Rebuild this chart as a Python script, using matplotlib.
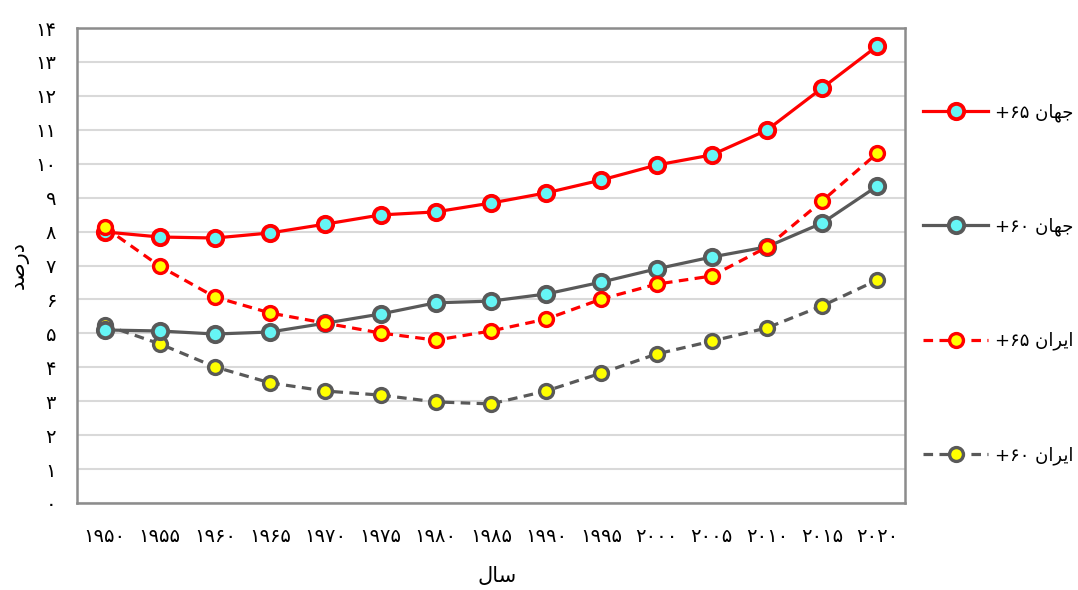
import numpy as np
import matplotlib.pyplot as plt

# Colores
color_red = '#FF0000'
color_gray = '#595959'
color_cyan = '#66F5F5'
color_yellow = '#FFFF00'
color_grid = '#D9D9D9'
color_frame = '#8C8C8C'

# Persian text written in visual (presentation) form, since matplotlib has no shaping
jahan = '\uFEE5\uFE8E\uFEEC\uFE9F'
iran = '\uFEE5\uFE8D\uFEAE\uFBFE\uFE8D'
dar_sad = '\uFEAA\uFEBB\uFEAD\uFEA9'
sal = '\uFEDD\uFE8E\uFEB3'

fa_digits = str.maketrans('0123456789', '۰۱۲۳۴۵۶۷۸۹')

# Datos
years = [1950, 1955, 1960, 1965, 1970, 1975, 1980, 1985, 1990, 1995, 2000, 2005, 2010, 2015, 2020]
world_65 = [7.99, 7.84, 7.81, 7.96, 8.22, 8.49, 8.58, 8.84, 9.14, 9.52, 9.96, 10.26, 10.99, 12.23, 13.47]
world_60 = [5.10, 5.07, 4.98, 5.04, 5.30, 5.57, 5.90, 5.95, 6.16, 6.51, 6.90, 7.25, 7.55, 8.25, 9.34]
iran_65 = [8.13, 6.98, 6.07, 5.60, 5.30, 5.01, 4.80, 5.07, 5.42, 6.01, 6.45, 6.69, 7.54, 8.90, 10.31]
iran_60 = [5.25, 4.69, 4.01, 3.54, 3.30, 3.18, 2.98, 2.92, 3.30, 3.83, 4.39, 4.77, 5.16, 5.81, 6.57]

labels = ['+۶۵ ' + jahan, '+۶۰ ' + jahan, '+۶۵ ' + iran, '+۶۰ ' + iran]

plt.rcParams['font.family'] = ['DejaVu Sans']

fig = plt.figure(figsize=(10.78, 5.90), dpi=100)
ax = fig.add_axes([0.0714, 0.1475, 0.768, 0.805])

x = np.arange(len(years))
lw = 2.3
ax.plot(x, world_65, color=color_red, lw=lw, marker='o', markersize=11,
        markerfacecolor=color_cyan, markeredgecolor=color_red, markeredgewidth=2.8,
        label=labels[0], zorder=4)
ax.plot(x, world_60, color=color_gray, lw=lw, marker='o', markersize=11,
        markerfacecolor=color_cyan, markeredgecolor=color_gray, markeredgewidth=2.8,
        label=labels[1], zorder=3)
ax.plot(x, iran_65, color=color_red, lw=lw, linestyle=(0, (3, 2)), marker='o', markersize=10,
        markerfacecolor=color_yellow, markeredgecolor=color_red, markeredgewidth=2.4,
        label=labels[2], zorder=5)
ax.plot(x, iran_60, color=color_gray, lw=lw, linestyle=(0, (3, 2)), marker='o', markersize=10,
        markerfacecolor=color_yellow, markeredgecolor=color_gray, markeredgewidth=2.4,
        label=labels[3], zorder=2)

ax.set_xlim(-0.5, len(years) - 0.5)
ax.set_ylim(0, 14)
ax.set_xticks(x)
ax.set_xticklabels([str(y).translate(fa_digits) for y in years], fontsize=14)
ax.set_yticks(range(0, 15))
ax.set_yticklabels([str(v).translate(fa_digits) for v in range(0, 15)], fontsize=14)
ax.tick_params(axis='y', length=0, pad=15)
ax.tick_params(axis='x', length=0, pad=17)

ax.grid(axis='y', color=color_grid, lw=1.5)
ax.set_axisbelow(True)
for s in ax.spines.values():
    s.set_color(color_frame)
    s.set_linewidth(1.8)

ax.set_ylabel(dar_sad, fontsize=15)
ax.yaxis.set_label_coords(-0.058, 0.5)
ax.set_xlabel(sal, fontsize=15)
ax.xaxis.set_label_coords(0.508, -0.132)

ax.legend(loc='center left', bbox_to_anchor=(1.022, 0.461), frameon=False, fontsize=13,
          handlelength=3.6, labelspacing=5.3, borderaxespad=0, borderpad=0,
          handletextpad=0.4)

fig.savefig('out.png', dpi=100)
